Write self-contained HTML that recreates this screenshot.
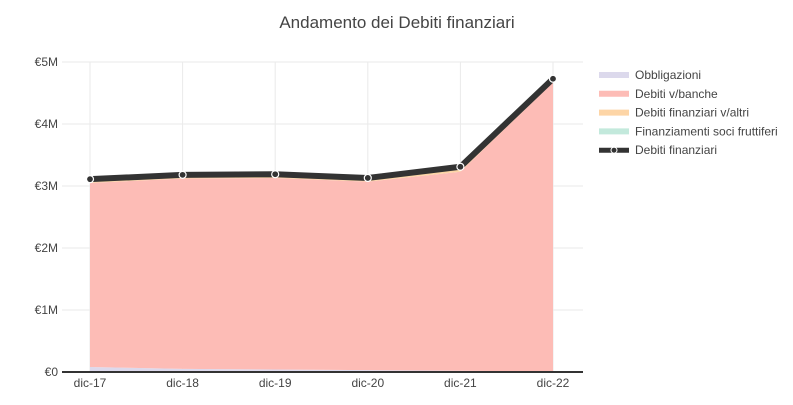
<!DOCTYPE html>
<html><head><meta charset="utf-8"><style>
body{margin:0;background:#fff;font-family:"Liberation Sans",Arial,sans-serif;}
svg text{font-family:"Liberation Sans",Arial,sans-serif;}
</style></head><body>
<svg id="c" width="793" height="400">
<text x="397" y="28" text-anchor="middle" font-size="17" fill="#444">Andamento dei Debiti finanziari</text>
<g id="grid"></g><g id="areas"></g><g id="line"></g><g id="axes"></g><g id="legend"></g>
</svg>
<script>
const categories=["dic-17","dic-18","dic-19","dic-20","dic-21","dic-22"];
const obbligazioni=[0.08,0.05,0.04,0.03,0.02,0.01];
const banche=[2.97,3.07,3.09,3.04,3.21,4.66];
const altri=[0.06,0.06,0.06,0.06,0.08,0.06];
const soci=[0,0,0,0,0,0];
const yTicks=[0,1,2,3,4,5];
const yTickLabels=["€0","€1M","€2M","€3M","€4M","€5M"];
const NS="http://www.w3.org/2000/svg";
const X0=90,X1=553,Y0=372,Y5=62;
const x=i=>X0+(X1-X0)*i/(categories.length-1);
const y=v=>Y0-(Y0-Y5)*v/5;
function mk(t,a,p){const e=document.createElementNS(NS,t);for(const k in a)e.setAttribute(k,a[k]);document.getElementById(p).appendChild(e);return e;}
yTicks.forEach((t,i)=>{
 if(t>0){const g=mk('line',{x1:62,x2:583,y1:y(t),y2:y(t),stroke:'#eaeaea'},'grid');
 
 }
 const l=mk('text',{x:58,y:y(t)+4,'text-anchor':'end','font-size':12,fill:'#444'},'axes');l.textContent=yTickLabels[i];
 
 
});
categories.forEach((c,i)=>{
 const g=mk('line',{x1:x(i),x2:x(i),y1:Y5,y2:Y0,stroke:'#eaeaea'},'grid');
 
 
 const l=mk('text',{x:x(i),y:387,'text-anchor':'middle','font-size':12,fill:'#444'},'axes');l.textContent=c;
 
 
});
const series=[[obbligazioni,'#dcd9ec','Obbligazioni'],[banche,'#fdbcb6','Debiti v/banche'],[altri,'#fdd5a6','Debiti finanziari v/altri'],[soci,'#c3e9dc','Finanziamenti soci fruttiferi']];
let base=categories.map(()=>0);
series.forEach(([d,col,name])=>{
 const top=base.map((b,i)=>b+d[i]);
 let p=top.map((v,i)=>(i?'L':'M')+x(i)+','+y(v)).join('');
 for(let i=categories.length-1;i>=0;i--)p+='L'+x(i)+','+y(base[i]);
 const a=mk('path',{d:p+'Z',fill:col,stroke:'none'},'areas');
 
 
 base=top;
});
const tot=base;
const pl=mk('polyline',{points:tot.map((v,i)=>x(i)+','+y(v)).join(' '),fill:'none',stroke:'#333',"stroke-width":6,"stroke-linejoin":'round'},'line');


tot.forEach((v,i)=>{const c=mk('circle',{cx:x(i),cy:y(v),r:3.5,fill:'#333',stroke:'#fff','stroke-width':1.2},'line');
 
 });
const ax=mk('line',{x1:62,x2:583,y1:Y0,y2:Y0,stroke:'#333','stroke-width':2},'axes');


const leg=[['Obbligazioni','#dcd9ec'],['Debiti v/banche','#fdbcb6'],['Debiti finanziari v/altri','#fdd5a6'],['Finanziamenti soci fruttiferi','#c3e9dc'],['Debiti finanziari','#333']];
leg.forEach(([n,c],i)=>{
 const yy=75+i*18.8;
 const s=mk('line',{x1:599,x2:629,y1:yy,y2:yy,stroke:c,'stroke-width':i==4?5:6},'legend');
 
 
 if(i==4){const d=mk('circle',{cx:614,cy:yy,r:3,fill:'#333',stroke:'#fff'},'legend');
 
 }
 const t=mk('text',{x:635,y:yy+4,'font-size':12,fill:'#444'},'legend');t.textContent=n;
 
 
});
</script>
</body></html>
